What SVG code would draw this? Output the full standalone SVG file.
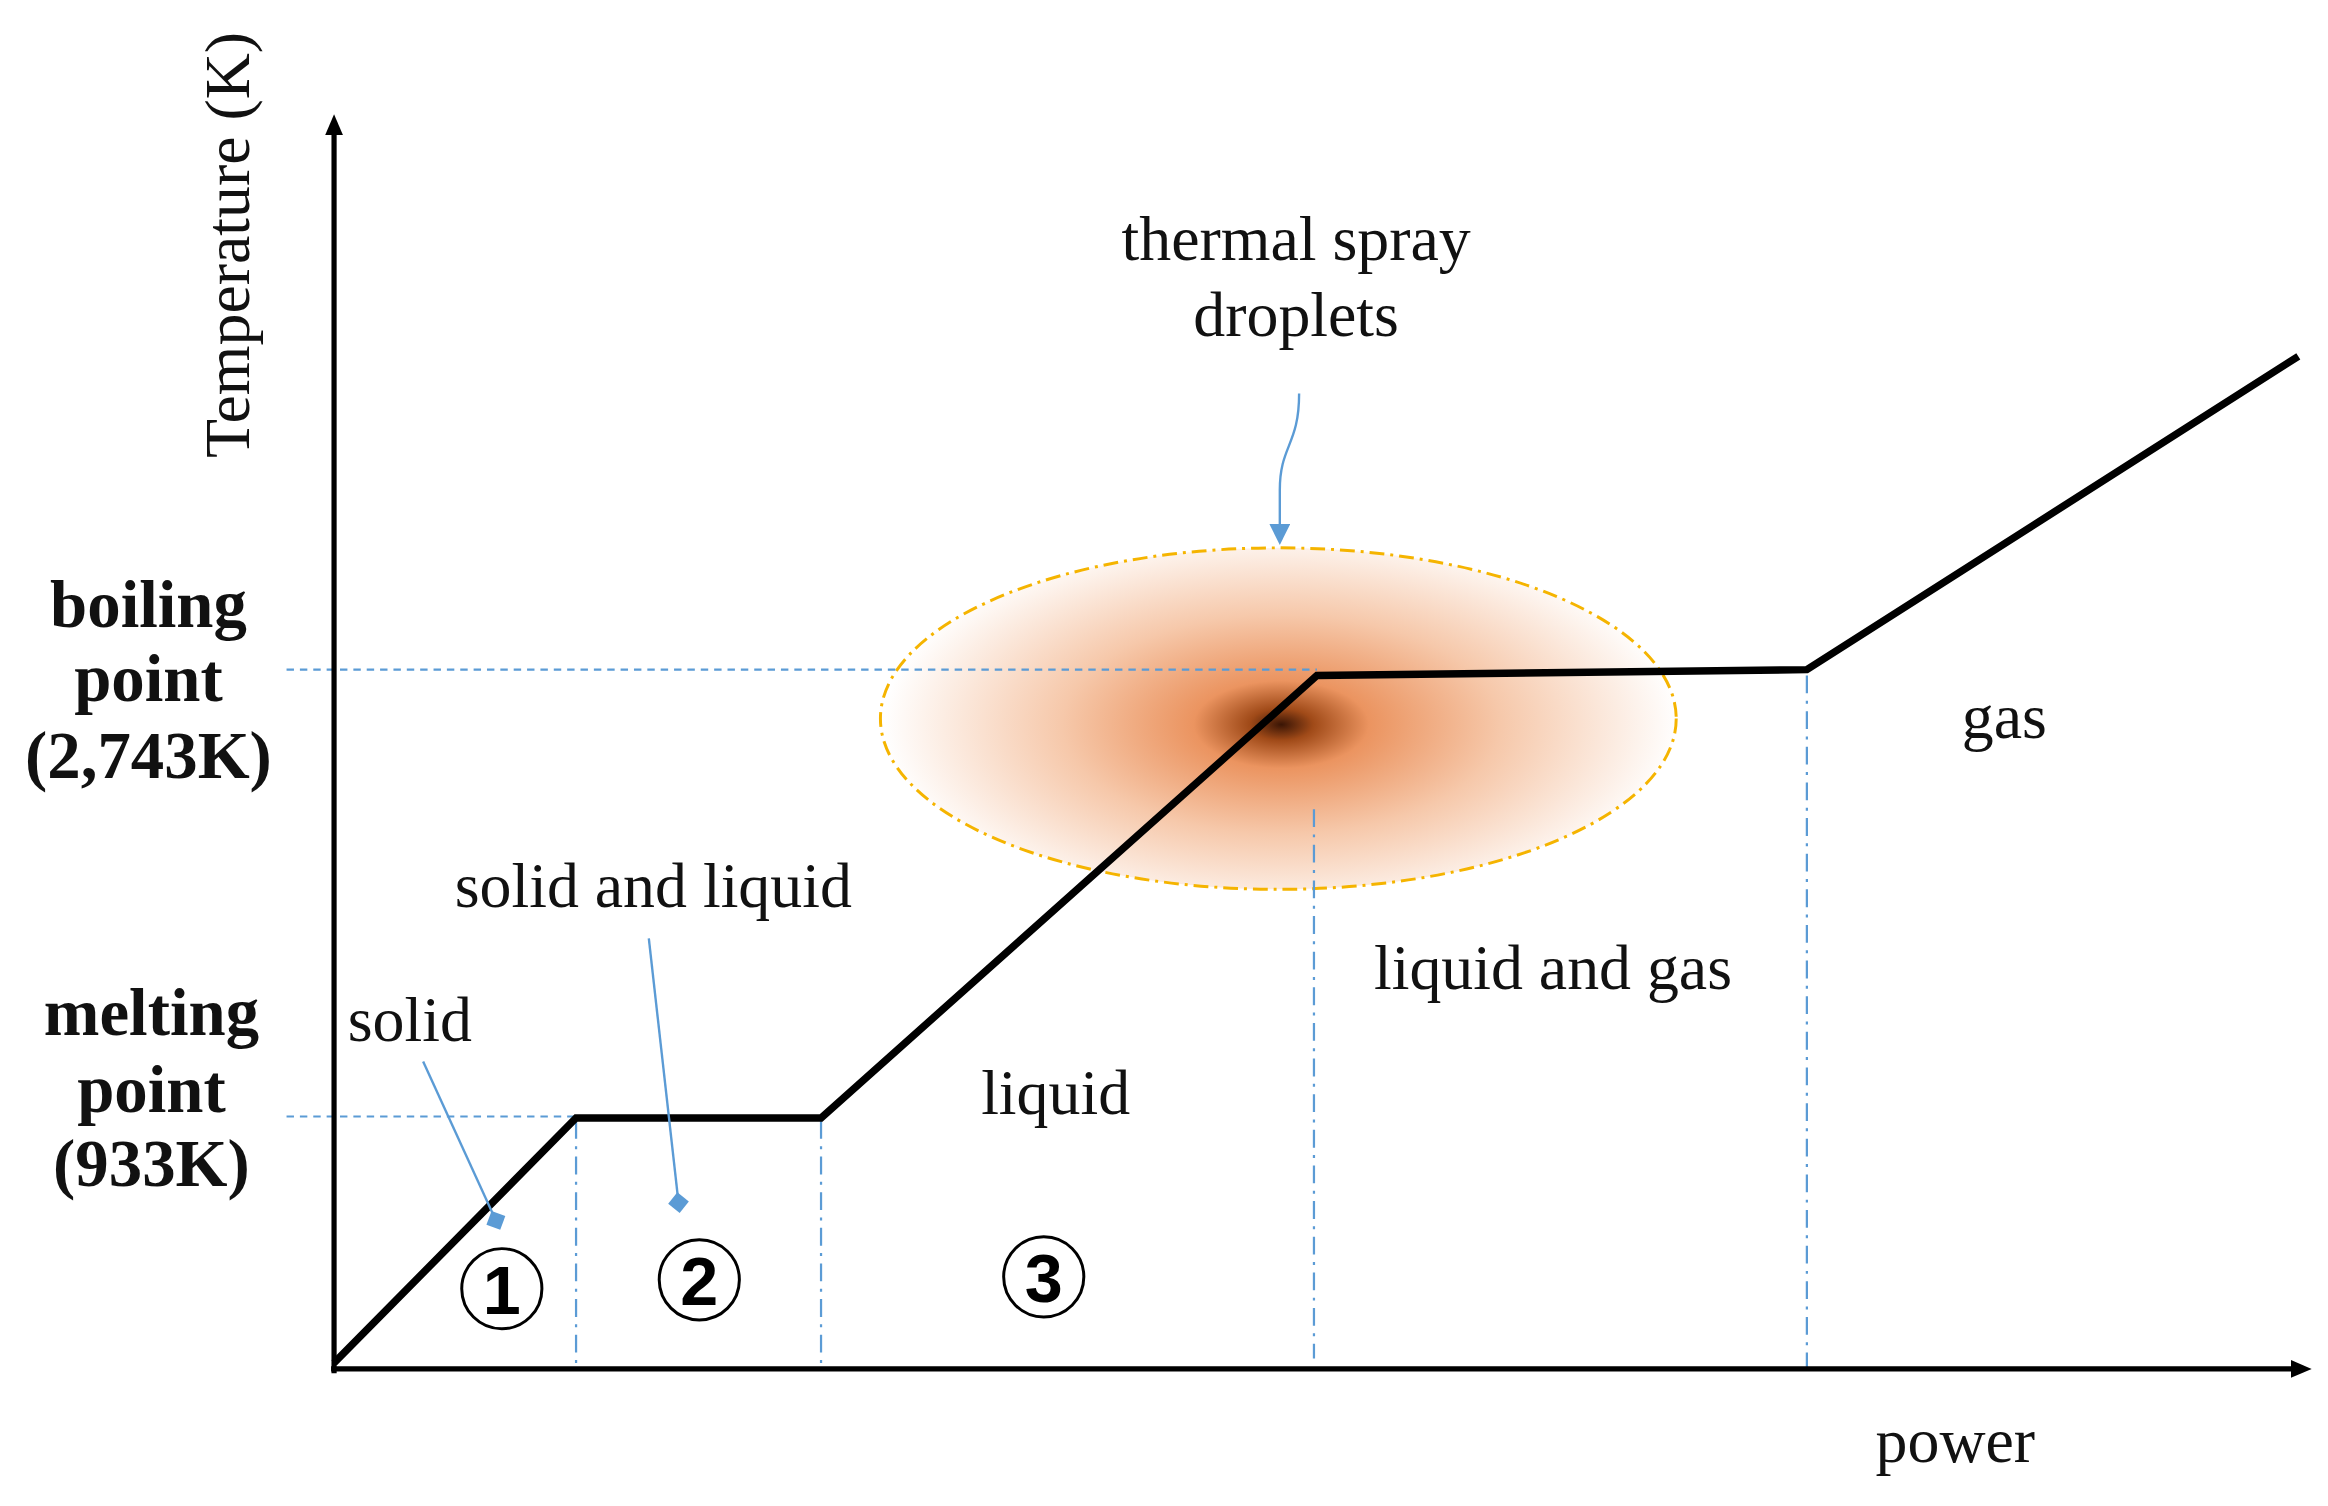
<svg xmlns="http://www.w3.org/2000/svg" width="2328" height="1506" viewBox="0 0 2328 1506">
<style>
.t{font-family:"Liberation Serif",serif;font-size:43px;fill:#111;text-anchor:middle}
.b{font-weight:bold;font-size:45px}
.n{font-family:"Liberation Sans",sans-serif;font-size:46px;font-weight:bold;text-anchor:middle}
.g{stroke:#5b9bd5;stroke-width:1.6;fill:none}
</style>
<defs>
<radialGradient id="rg" gradientUnits="userSpaceOnUse" cx="863" cy="488" r="268" gradientTransform="translate(863 488) scale(1 0.5) translate(-863 -488)">
<stop offset="0" stop-color="#3a1505"/>
<stop offset="0.08" stop-color="#a04a18"/>
<stop offset="0.22" stop-color="#eb9460"/>
<stop offset="0.55" stop-color="#f6c8aa"/>
<stop offset="1" stop-color="#ffffff"/>
</radialGradient>
<marker id="ah" markerWidth="14" markerHeight="12" refX="7" refY="6" orient="auto" markerUnits="userSpaceOnUse"><path d="M0,0L14,6L0,12z" fill="#000"/></marker>
<marker id="dm" markerWidth="14" markerHeight="14" refX="7" refY="7" orient="auto" markerUnits="userSpaceOnUse"><path d="M0,7L7,0L14,7L7,14z" fill="#5b9bd5"/></marker>
<marker id="ba" markerWidth="14" markerHeight="14" refX="7" refY="7" orient="auto" markerUnits="userSpaceOnUse"><path d="M0,0L14,7L0,14z" fill="#5b9bd5"/></marker>
</defs>
<rect width="2328" height="1506" fill="#fff"/>
<g transform="scale(1.4847)">
<g id="cloud">
<ellipse cx="861" cy="484" rx="268" ry="115" fill="url(#rg)"/>
<ellipse cx="861" cy="484" rx="268" ry="115" fill="none" stroke="#f5b400" stroke-width="2" stroke-dasharray="10,4,2,4"/>
</g>
<g id="guides" fill="none" stroke="#5b9bd5" stroke-width="1.5">
<path d="M193,451H887M193,752H388" stroke-dasharray="5,4"/>
<path d="M388,755V918M553,755V918M885,545V915M1217,455V925" stroke-dasharray="12,5,2,5"/>
</g>
<g id="connectors">
<path d="M225,925V84" stroke="#000" stroke-width="3.5" marker-end="url(#ah)"/>
<path d="M223,922H1550" stroke="#000" stroke-width="3.5" marker-end="url(#ah)"/>
<path d="M225,918L388,753H553L887,455L1217,451L1548,240" fill="none" stroke="#000" stroke-width="5" stroke-linejoin="miter"/>
<path class="g" d="M285,715L334,822" marker-end="url(#dm)"/>
<path class="g" d="M437,632L457,810" marker-end="url(#dm)"/>
<path class="g" d="M875,265C875,300 862,300 862,330L862,360" marker-end="url(#ba)"/>
</g>
<g id="labels">
<text class="t" x="873" y="175">thermal spray</text>
<text class="t" x="873" y="226">droplets</text>
<text class="t b" x="100" y="422">boiling</text>
<text class="t b" x="100" y="472">point</text>
<text class="t b" x="100" y="524">(2,743K)</text>
<text class="t b" x="102" y="697">melting</text>
<text class="t b" x="102" y="749">point</text>
<text class="t b" x="102" y="799">(933K)</text>
<text class="t" x="276" y="701">solid</text>
<text class="t" x="440" y="611">solid and liquid</text>
<text class="t" x="711" y="750">liquid</text>
<text class="t" x="1046" y="666">liquid and gas</text>
<text class="t" x="1350" y="497">gas</text>
<text class="t" x="1317" y="985">power</text>
<text class="t" transform="translate(168,165) rotate(-90)">Temperature (K)</text>
</g>
<g id="n1"><circle cx="338" cy="868" r="27" fill="none" stroke="#000" stroke-width="2"/><text class="n" x="338" y="885">1</text></g>
<g id="n2"><circle cx="471" cy="862" r="27" fill="none" stroke="#000" stroke-width="2"/><text class="n" x="471" y="879">2</text></g>
<g id="n3"><circle cx="703" cy="860" r="27" fill="none" stroke="#000" stroke-width="2"/><text class="n" x="703" y="877">3</text></g>
</g>
</svg>
